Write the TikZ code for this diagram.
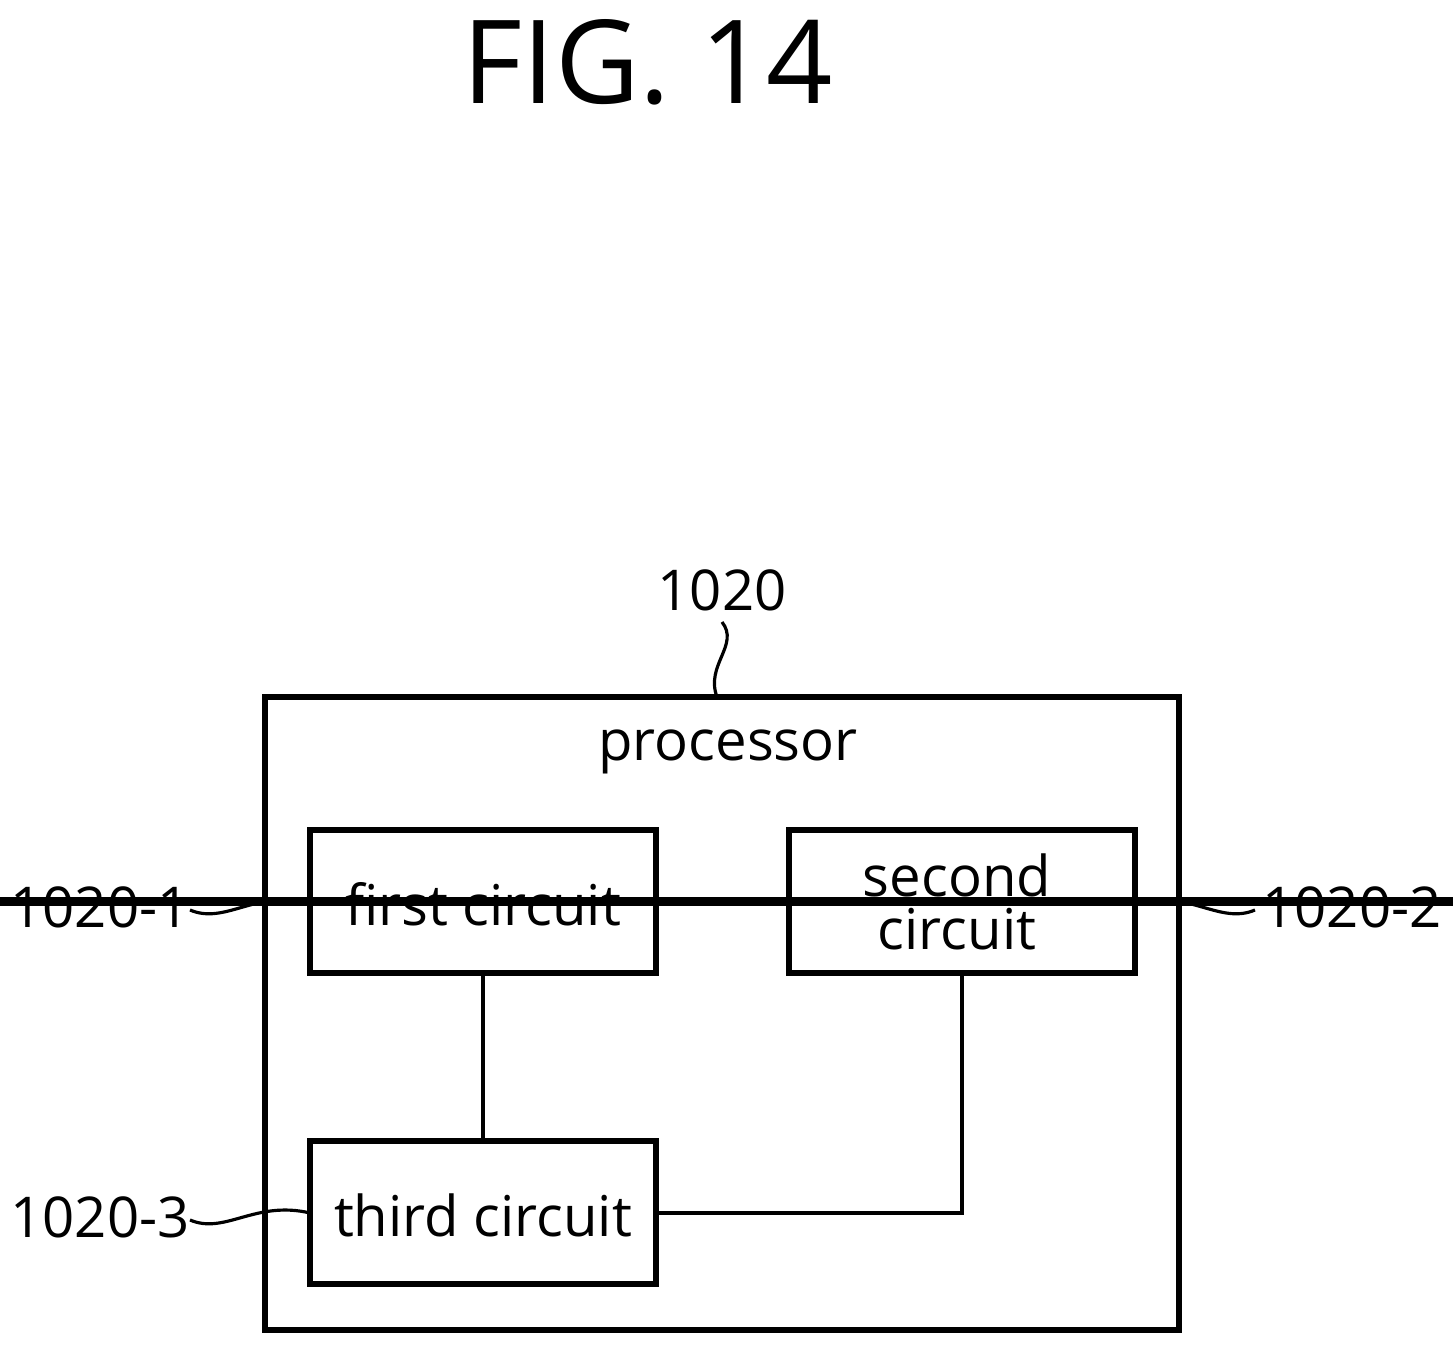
\documentclass[tikz,border=0pt]{standalone}
\usepackage{fontspec}
\setmainfont{Open Sans}
\begin{document}
\begin{tikzpicture}[x=0.01cm,y=-0.01cm,
  box/.style={draw,line width=1.6pt},
  lbl/.style={font=\fontsize{16}{19}\selectfont},
  ln/.style={line width=0.9pt}]
\useasboundingbox (0,0) rectangle (1453,1352);
\node[font=\fontsize{33}{38}\selectfont] (fig) at (648,62) {FIG. 14};
\draw[box] (265,697) rectangle (1179,1330);
\coordinate (outtop) at (717,697);
\node[lbl] (proc) at (728,752) {processor};
\node[lbl] (n1020) at (722,590) {1020};
\node[box,lbl,minimum width=346\pgflinewidth,inner sep=0] (c1) at (483,901.5) {};
\draw[box] (310,830) rectangle (656,973);
\draw[box] (789,830) rectangle (1135,973);
\draw[box] (310,1141) rectangle (656,1284);
\node[lbl] (t1) at (483,904) {first circuit};
\node[lbl,align=center,text width=3cm] (t2) at (957,902) {second\\[-4pt]circuit};
\node[lbl] (t3) at (483,1215) {third circuit};
\node[lbl] (l1) at (100,907) {1020-1};
\node[lbl] (l2) at (1352,907) {1020-2};
\node[lbl] (l3) at (100,1217) {1020-3};
\draw[ln] (656,902) -- (789,902);
\draw[ln] (483,975) -- (483,1141);
\draw[ln] (962,975) -- (962,1213) -- (656,1213);
\draw[ln] (722,622) .. controls (740,645) and (705,665) .. (717,697);
\draw[ln] (190,910) .. controls (225,925) and (255,890) .. (310,902);
\draw[ln] (1135,902) .. controls (1190,890) and (1220,925) .. (1255,910);
\draw[ln] (190,1220) .. controls (225,1235) and (255,1200) .. (310,1213);
\end{tikzpicture}
\end{document}
